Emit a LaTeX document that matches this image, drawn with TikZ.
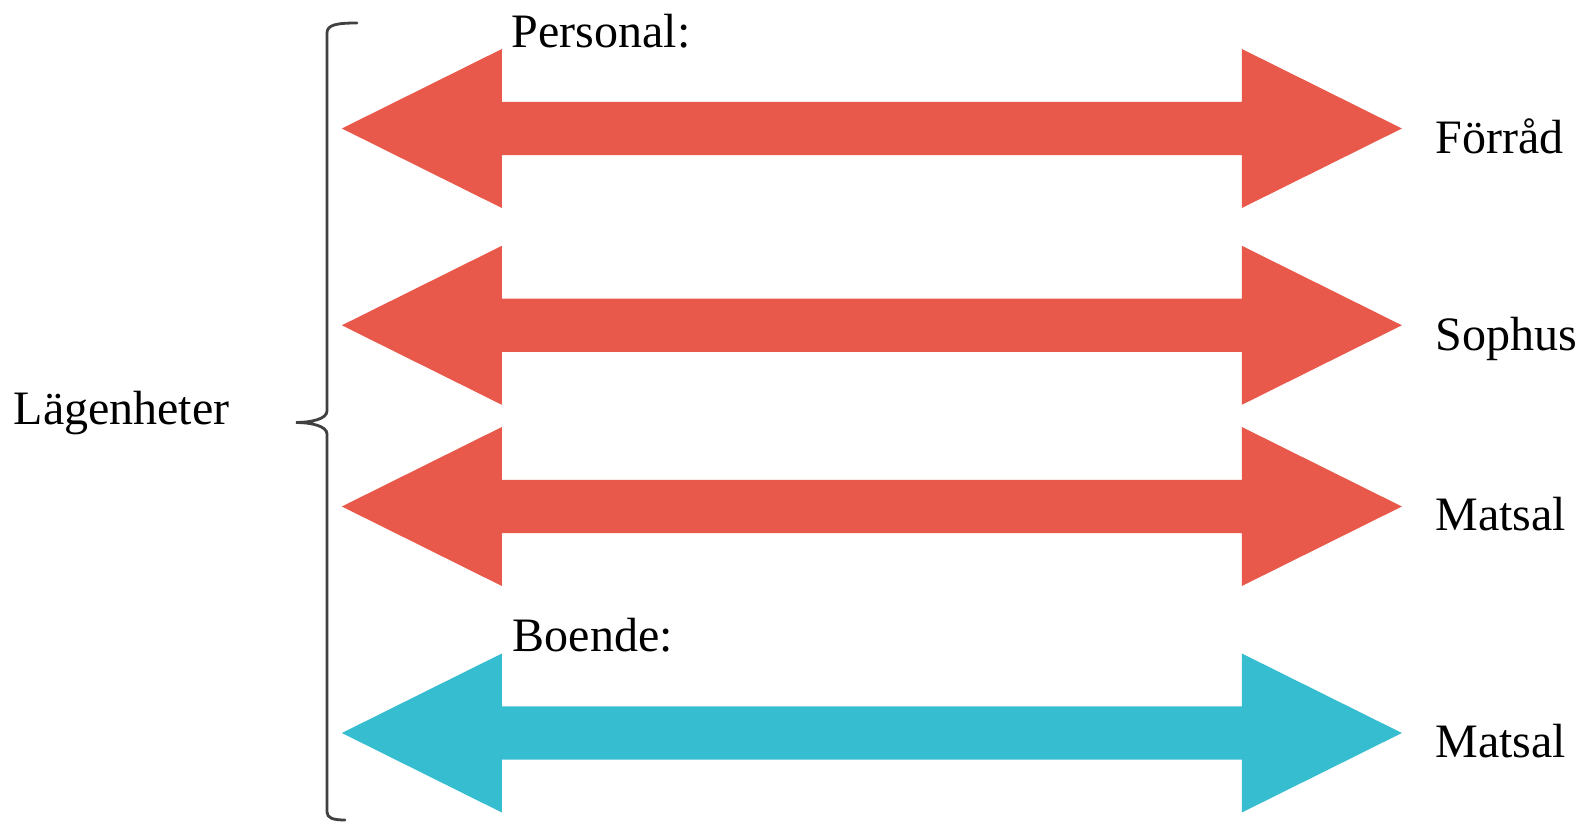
\documentclass[tikz,border=0pt]{standalone}
\usepackage{fontspec}
\setmainfont{Liberation Serif}
\usepackage{tikz}
\usetikzlibrary{positioning}
\definecolor{arrowred}{HTML}{E9594B}
\definecolor{arrowblue}{HTML}{37BDD0}
\definecolor{bracegray}{HTML}{404040}
\tikzset{
    redarrow/.style={fill=arrowred},
    bluearrow/.style={fill=arrowblue},
    lbl/.style={anchor=base west, inner sep=0pt, font=\fontsize{24}{28}\selectfont},
    bracket/.style={draw=bracegray, line width=1.4, line cap=round},
}
% fat double arrow around a named centre
\newcommand{\fatarrow}[2]{
    \fill[#1, shift={(#2)}] (-530,0) -- (-370,-79.5) -- (-370,-26.7) -- (370,-26.7) -- (370,-79.5)
        -- (530,0) -- (370,79.5) -- (370,26.7) -- (-370,26.7) -- (-370,79.5) -- cycle;
}
\begin{document}
\begin{tikzpicture}
        [x=0.5pt, y=-0.5pt]
        \useasboundingbox (0,0) rectangle (1579,822);

        % Arrow centres
        \coordinate (forrad) at (871.85,128.5);
        \coordinate (sophus) at (871.85,325.3);
        \coordinate (matsal) at (871.85,506.5);
        \coordinate (boende) at (871.85,733);

        % Arrows
        \fatarrow{redarrow}{forrad}
        \fatarrow{redarrow}{sophus}
        \fatarrow{redarrow}{matsal}
        \fatarrow{bluearrow}{boende}

        % Group headings
        \node[lbl] (personal) at (511.5,47.5) {Personal:};
        \node[lbl] (boendehead) at (512.3,651.7) {Boende:};

        % Right labels
        \node[lbl] (forradlbl) at (1435,153.5) {Förråd};
        \node[lbl] (sophuslbl) at (1435,350.3) {Sophus};
        \node[lbl] (matsallbl) at (1435,530.5) {Matsal};
        \node[lbl] (boendelbl) at (1435,757) {Matsal};

        % Left brace
        \node[lbl] (lagenheter) at (13.3,425) {Lägenheter};
        \draw[bracket] (357,23) .. controls (336,23) and (327,25) .. (327,33) -- (327,411)
            .. controls (327,419) and (311,422.5) .. (296,422.5)
            .. controls (311,422.5) and (327,426) .. (327,434) -- (327,812)
            .. controls (327,818) and (333,820) .. (345,820);
\end{tikzpicture}
\end{document}
